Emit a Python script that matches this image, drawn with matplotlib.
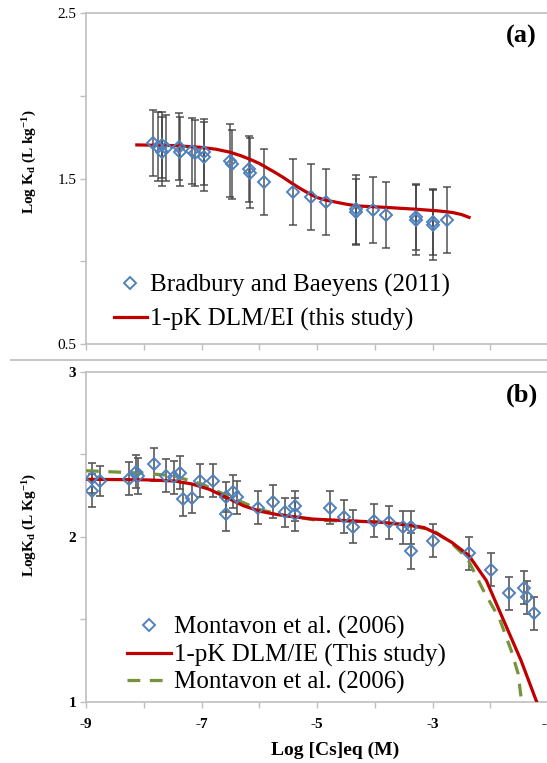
import matplotlib.pyplot as plt
from matplotlib.lines import Line2D
from matplotlib.ticker import FixedLocator, FixedFormatter

plt.rcParams['font.family'] = ['Liberation Serif', 'DejaVu Serif']
plt.rcParams['mathtext.fontset'] = 'custom'
plt.rcParams['mathtext.rm'] = 'Liberation Serif:bold'
plt.rcParams['mathtext.it'] = 'Liberation Serif:bold'
plt.rcParams['mathtext.bf'] = 'Liberation Serif:bold'
plt.rcParams['axes.unicode_minus'] = False

# ---- panel (a): Bradbury and Baeyens (2011) ----
xa = [-7.84, -7.75, -7.69, -7.69, -7.61, -7.39, -7.38, -7.17, -7.11, -6.95, -6.95,
      -6.50, -6.48, -6.17, -6.16, -5.92, -5.41, -5.10, -4.85, -4.33, -4.33, -4.03,
      -3.80, -3.29, -3.29, -2.99, -2.99, -2.76]
ya = [1.718, 1.694, 1.704, 1.663, 1.684, 1.694, 1.663, 1.669, 1.654, 1.663, 1.633,
      1.609, 1.587, 1.559, 1.533, 1.478, 1.421, 1.387, 1.361, 1.315, 1.300, 1.311,
      1.280, 1.270, 1.250, 1.220, 1.240, 1.250]
erra = [0.20, 0.21, 0.20, 0.21, 0.20, 0.20, 0.21, 0.20, 0.20, 0.20, 0.21,
        0.22, 0.21, 0.20, 0.21, 0.20, 0.20, 0.20, 0.20, 0.21, 0.20, 0.20,
        0.20, 0.20, 0.21, 0.21, 0.20, 0.20]
# 1-pK DLM/EI model curve
fit_a_x = [-8.12, -7.5, -7.03, -6.75, -6.51, -6.33, -6.16, -6.0, -5.87, -5.72, -5.58,
           -5.44, -5.30, -5.15, -5.01, -4.85, -4.72, -4.5, -4.31, -3.85, -3.28, -2.9,
           -2.65, -2.5, -2.37]
fit_a_y = [1.704, 1.700, 1.690, 1.678, 1.660, 1.640, 1.617, 1.592, 1.566, 1.536, 1.506,
           1.473, 1.442, 1.412, 1.387, 1.370, 1.361, 1.346, 1.335, 1.327, 1.315, 1.305,
           1.295, 1.283, 1.266]

# ---- panel (b): Montavon et al. (2006) ----
xb = [-8.89, -8.89, -8.76, -8.26, -8.13, -8.10, -7.83, -7.62, -7.47, -7.38, -7.32,
      -7.17, -7.03, -6.80, -6.57, -6.57, -6.45, -6.39, -6.03, -5.76, -5.55, -5.38,
      -5.38, -4.77, -4.54, -4.38, -4.02, -3.76, -3.52, -3.38, -3.38, -3.00, -2.37,
      -1.99, -1.68, -1.42, -1.36, -1.25]
yb = [2.354, 2.278, 2.338, 2.352, 2.393, 2.370, 2.439, 2.369, 2.359, 2.389, 2.228,
      2.232, 2.338, 2.338, 2.242, 2.137, 2.274, 2.238, 2.177, 2.213, 2.147, 2.187,
      2.137, 2.177, 2.121, 2.062, 2.097, 2.087, 2.056, 2.056, 1.915, 1.976, 1.899,
      1.799, 1.658, 1.690, 1.633, 1.537]
errb = [0.09, 0.10, 0.09, 0.10, 0.10, 0.11, 0.10, 0.10, 0.10, 0.10, 0.10,
        0.09, 0.10, 0.10, 0.09, 0.10, 0.10, 0.10, 0.10, 0.10, 0.09, 0.09,
        0.10, 0.10, 0.10, 0.10, 0.10, 0.10, 0.10, 0.10, 0.11, 0.10, 0.10,
        0.10, 0.10, 0.10, 0.10, 0.10]
# 1-pK DLM/IE (this study)
fit_b_x = [-9.0, -8.0, -7.47, -7.17, -6.87, -6.57, -6.27, -5.97, -5.67, -5.07, -4.47,
           -3.87, -3.42, -3.15, -2.91, -2.67, -2.37, -2.07, -1.77, -1.47, -1.20]
fit_b_y = [2.348, 2.345, 2.338, 2.320, 2.288, 2.238, 2.187, 2.153, 2.133, 2.107, 2.097,
           2.087, 2.070, 2.056, 2.016, 1.966, 1.885, 1.734, 1.492, 1.250, 1.000]
# Montavon et al. (2006) model
mont_x = [-9.0, -8.0, -7.5, -7.2, -7.0, -6.5, -6.0, -5.5, -5.0, -4.0, -3.5, -3.0,
          -2.7, -2.4, -2.13, -1.84, -1.64, -1.52, -1.46]
mont_y = [2.400, 2.385, 2.370, 2.340, 2.320, 2.240, 2.165, 2.125, 2.100, 2.090, 2.075,
          2.040, 1.970, 1.870, 1.680, 1.500, 1.310, 1.170, 1.000]

blue = '#4f81bd'
red = '#c00000'
green = '#77933c'
grey = '#bfbfbf'

fig = plt.figure(figsize=(5.47, 7.63), dpi=100, facecolor='white')


def style_axes(ax):
    for s in ['left', 'top', 'bottom']:
        ax.spines[s].set_color(grey)
        ax.spines[s].set_linewidth(1.2)
    ax.spines['right'].set_visible(False)
    ax.tick_params(which='both', direction='out', color=grey, length=4, width=1.0,
                   labelsize=11, pad=3)


# ===== (a) =====
ax1 = fig.add_axes([0.1572, 0.5491, 0.9506, 0.4335])
ax1.errorbar(xa, ya, yerr=erra, fmt='none', ecolor='#3c3c3c', elinewidth=1.3,
             capsize=3, capthick=1.3, alpha=0.75, zorder=2)
ax1.plot(fit_a_x, fit_a_y, color=red, lw=2.3, zorder=3)
ax1.plot(xa, ya, 'D', ms=6.5, mfc='none', mec=blue, mew=1.4, zorder=4)
ax1.set_xlim(-9, 0)
ax1.set_ylim(0.5, 2.5)
ax1.xaxis.set_major_locator(FixedLocator(range(-9, 1)))
ax1.set_xticklabels([])
ax1.yaxis.set_major_locator(FixedLocator([0.5, 1.0, 1.5, 2.0, 2.5]))
ax1.yaxis.set_major_formatter(FixedFormatter(['0.5', '', '1.5', '', '2.5']))
style_axes(ax1)
ax1.set_ylabel(r'Log K$_{d}$ (L kg$^{-1}$)', fontsize=11, fontweight='bold')
ax1.yaxis.set_label_coords(-0.09, 0.55)
ax1.text((506 - 86) / 520, 0.93, '(a)', transform=ax1.transAxes, fontsize=19,
         fontweight='bold', ha='left', va='center')

h1 = [Line2D([], [], ls='none', marker='D', ms=6.5, mfc='none', mec=blue, mew=1.4),
      Line2D([], [], color=red, lw=2.3)]
ax1.legend(h1, ['Bradbury and Baeyens (2011)', '1-pK DLM/EI (this study)'],
           loc='upper left', bbox_to_anchor=(114 / 547, 1 - 274 / 763),
           bbox_transform=fig.transFigure, frameon=False, fontsize=18,
           handlelength=1.3, handletextpad=0.15, labelspacing=0.45,
           borderpad=0, borderaxespad=0)

# separator between panels
fig.add_artist(Line2D([11 / 547, 1.0], [1 - 360 / 763] * 2, color=grey, lw=1.3))

# ===== (b) =====
ax2 = fig.add_axes([0.1572, 0.0803, 0.9506, 0.4325])
ax2.errorbar(xb, yb, yerr=errb, fmt='none', ecolor='#595959', elinewidth=1.2,
             capsize=3, capthick=1.2, zorder=2)
ax2.plot(mont_x, mont_y, color=green, lw=2.3, dashes=(4, 3), zorder=3)
ax2.plot(fit_b_x, fit_b_y, color=red, lw=2.3, zorder=3)
ax2.plot(xb, yb, 'D', ms=6.5, mfc='none', mec=blue, mew=1.4, zorder=4)
ax2.set_xlim(-9, 0)
ax2.set_ylim(1, 3)
ax2.xaxis.set_major_locator(FixedLocator([-9, -7, -5, -3, -1]))
ax2.xaxis.set_major_formatter(FixedFormatter(['-9', '-7', '-5', '-3', '-1']))
ax2.xaxis.set_minor_locator(FixedLocator([-8, -6, -4, -2]))
ax2.yaxis.set_major_locator(FixedLocator([1.0, 1.5, 2.0, 2.5, 3.0]))
ax2.yaxis.set_major_formatter(FixedFormatter(['1', '', '2', '', '3']))
style_axes(ax2)
ax2.tick_params(axis='x', which='major', pad=8)
for lab in ax2.get_xticklabels() + ax2.get_yticklabels():
    lab.set_fontweight('bold')
ax2.set_ylabel(r'LogK$_{d}$ (L Kg$^{-1}$)', fontsize=11, fontweight='bold')
ax2.yaxis.set_label_coords(-0.09, 0.535)
ax2.text((506 - 86) / 520, 0.93, '(b)', transform=ax2.transAxes, fontsize=19,
         fontweight='bold', ha='left', va='center')

h2 = [Line2D([], [], ls='none', marker='D', ms=6.5, mfc='none', mec=blue, mew=1.4),
      Line2D([], [], color=red, lw=2.3),
      Line2D([], [], color=green, lw=2.3, dashes=(4, 3))]
ax2.legend(h2, ['Montavon et al. (2006)', '1-pK DLM/IE (This study)', 'Montavon et al. (2006)'],
           loc='upper left', bbox_to_anchor=(127 / 547, 1 - 616 / 763),
           bbox_transform=fig.transFigure, frameon=False, fontsize=18,
           handlelength=1.75, handletextpad=0.15, labelspacing=0.18,
           borderpad=0, borderaxespad=0)

fig.text(335 / 547, 1 - 750 / 763, 'Log [Cs]eq (M)', fontsize=14, fontweight='bold',
         ha='center', va='center')

fig.savefig('out.png', dpi=100, facecolor='white')
